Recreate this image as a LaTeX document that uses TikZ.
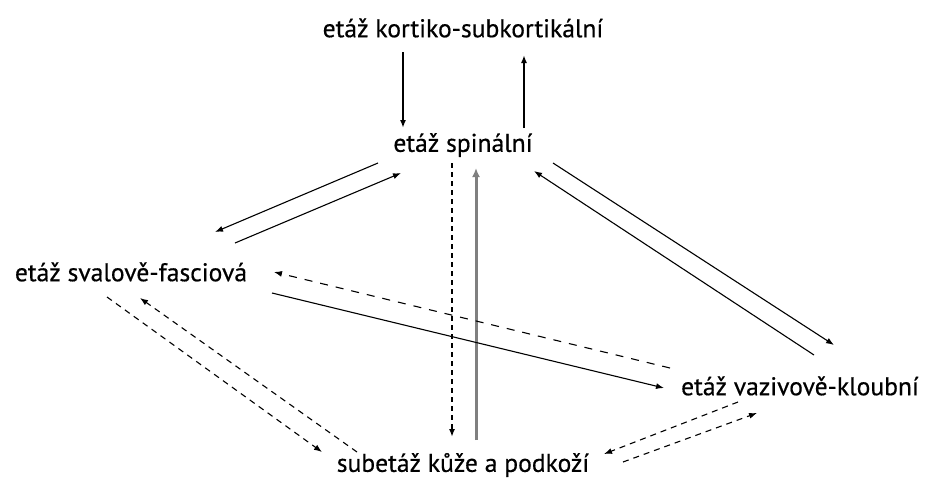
\documentclass[tikz,border=0pt]{standalone}
\usepackage{fontspec}
\setmainfont{PT Sans}[FakeBold=0.5]
\usetikzlibrary{arrows.meta}
\tikzset{
  lvl/.style={inner sep=0pt, font=\fontsize{25.6}{28}\selectfont},
  arr/.style={line width=1.1pt, -{Latex[length=8pt,width=6pt]}},
  thick arr/.style={arr, line width=1.8pt},
  dash arr/.style={arr, dash pattern=on 6pt off 5pt},
  wide dash arr/.style={arr, dash pattern=on 8pt off 8pt},
  vdash arr/.style={arr, line width=1.9pt, dash pattern=on 5pt off 4pt},
  gray arr/.style={arr, line width=3pt, draw=black!50, -{Latex[length=9pt,width=8pt]}},
}
\begin{document}
\begin{tikzpicture}[x=1pt,y=-1pt]
\useasboundingbox (0,0) rectangle (927,483);

\node[lvl] (top)  at (463,28)  {etáž kortiko-subkortikální};
\node[lvl] (spin) at (463,145) {etáž spinální};
\node[lvl] (sval) at (131,272) {etáž svalově-fasciová};
\node[lvl] (vaz)  at (800,386) {etáž vazivově-kloubní};
\node[lvl] (sub)  at (463,465) {subetáž kůže a podkoží};

% vertical links at the top
\draw[thick arr] ([shift={(-60,24)}]top.center) -- ([shift={(-60,-17)}]spin.center);
\draw[thick arr] ([shift={(61,-17)}]spin.center) -- ([shift={(61,27)}]top.center);

% spinal <-> muscular-fascial
\draw[arr] ([shift={(-85,18)}]spin.center) -- ([shift={(84,-40)}]sval.center);
\draw[arr] ([shift={(104,-29)}]sval.center) -- ([shift={(-62,28)}]spin.center);

% spinal <-> skin and subcutis
\draw[vdash arr] ([shift={(-11,18)}]spin.center) -- ([shift={(-11,-28)}]sub.center);
\draw[gray arr] ([shift={(13,-25)}]sub.center) -- ([shift={(13,23)}]spin.center);

% spinal <-> ligament-joint
\draw[arr] ([shift={(90,18)}]spin.center) -- ([shift={(34,-41)}]vaz.center);
\draw[arr] ([shift={(14,-31)}]vaz.center) -- ([shift={(71,26)}]spin.center);

% muscular-fascial <-> ligament-joint
\draw[wide dash arr] ([shift={(-130,-18)}]vaz.center) -- ([shift={(143,0)}]sval.center);
\draw[arr] ([shift={(141,21)}]sval.center) -- ([shift={(-136,2)}]vaz.center);

% muscular-fascial <-> skin and subcutis
\draw[dash arr] ([shift={(-24,25)}]sval.center) -- ([shift={(-141,-13)}]sub.center);
\draw[dash arr] ([shift={(-106,-13)}]sub.center) -- ([shift={(9,26)}]sval.center);

% ligament-joint <-> skin and subcutis
\draw[dash arr] ([shift={(-62,16)}]vaz.center) -- ([shift={(141,-11)}]sub.center);
\draw[dash arr] ([shift={(160,-3)}]sub.center) -- ([shift={(-43,27)}]vaz.center);
\end{tikzpicture}
\end{document}
